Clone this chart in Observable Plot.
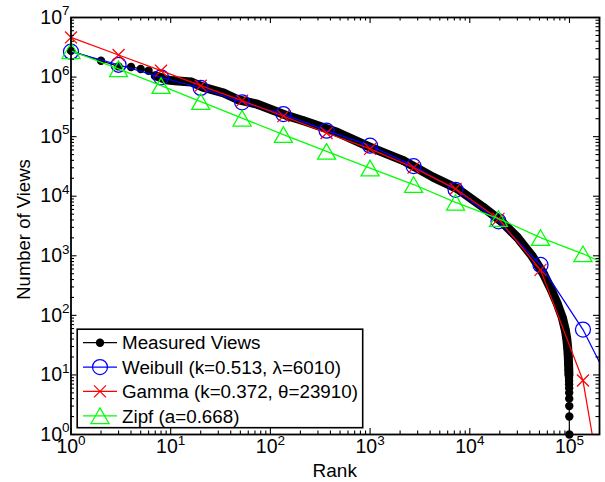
<!DOCTYPE html>
<html><head><meta charset="utf-8">
<script src="https://cdn.jsdelivr.net/npm/d3@7"></script>
<script src="https://cdn.jsdelivr.net/npm/@observablehq/plot@0.6"></script>
<style>
body{margin:0;background:#fff;}
#wrap{position:relative;width:605px;height:482px;font-family:"Liberation Sans",Arial,Helvetica,sans-serif;}
#wrap svg{position:absolute;left:0;top:0;}
</style></head><body><div id="wrap"></div>
<script>
// ---- data ----
const measuredRank  = [1,2,3,4,5,6,7,8,9,10,11,16,21,34,47,74,147,215,468,1010,2160,4330,7480,13700,20300,29900,42000,54800,65000,75300,85000,91000,94000,96000,97300,98000,98400,98700,98900,99000,99100,99200,99300,99400,99500,99600,99700];
const measuredViews = [2.75e6,1.88e6,1.51e6,1.48e6,1.37e6,1.28e6,1.05e6,9.8e5,9.0e5,8.8e5,8.7e5,8.3e5,6.8e5,5.4e5,4.2e5,3.5e5,2.25e5,1.85e5,1.18e5,6.6e4,3.95e4,2.07e4,1.34e4,6.5e3,3.9e3,2.05e3,1000,500,280,158,90,56,40,28,20,15,12,10,9,8,7,6,5,4,3,2,1];
const fitRank      = [1,3,8,20,52,135,366,1000,2730,7200,19400,51200,136500];
const weibullViews = [2.67e6,1.61e6,9.9e5,6.56e5,3.77e5,2.39e5,1.26e5,7.06e4,3.2e4,1.28e4,3790,703,57.8];
const gammaViews   = [4.63e6,2.35e6,1.28e6,7.17e5,4.02e5,2.21e5,1.15e5,6.22e4,3.02e4,1.33e4,4160,580,8.05];
const zipfViews    = [2.77e6,1.37e6,7.17e5,3.87e5,2.04e5,1.08e5,5.65e4,2.96e4,1.57e4,7900,4210,2020,1080];
const weibullTailRank = [2e5],   weibullTailViews = [16.3];
const gammaTailRank   = [1.69e5], gammaTailViews  = [1];
const zipfTailRank    = [2e5],   zipfTailViews    = [809];
const xMajor = [1,10,100,1e3,1e4,1e5];
const yMajor = [1,10,100,1e3,1e4,1e5,1e6,1e7];
const minorSteps = [2,3,4,5,6,7,8,9];
const legendLabels = ["Measured Views","Weibull (k=0.513, \u03bb=6010)","Gamma (k=0.372, \u03b8=23910)","Zipf (a=0.668)"];
const xLabel = "Rank", yLabel = "Number of Views";

// ---- build ----
const W=605,H=482,mL=70.5,mR=6,mT=17,mB=48;
const plotW=W-mL-mR, plotH=H-mT-mB;
const FONT='"Liberation Sans",Arial,Helvetica,sans-serif';
const pts=(R,V)=>R.map((r,i)=>({rank:r,views:V[i]}));
const measured=pts(measuredRank,measuredViews);
const band=measured.filter(d=>d.rank>=7 && d.views>=10);
const weibull=pts(fitRank,weibullViews), gamma=pts(fitRank,gammaViews), zipf=pts(fitRank,zipfViews);
const weibullLine=weibull.concat(pts(weibullTailRank,weibullTailViews));
const gammaLine=gamma.concat(pts(gammaTailRank,gammaTailViews));
const zipfLine=zipf.concat(pts(zipfTailRank,zipfTailViews));
const xMinor=xMajor.flatMap(m=>minorSteps.map(s=>s*m)).filter(v=>v<=2e5);
const yMinor=yMajor.slice(0,-1).flatMap(m=>minorSteps.map(s=>s*m));
const BLUE="#0000ff",RED="#ff0000",GREEN="#00ff00";
const xy={x:"rank",y:"views"};
const LW=1.25;
const expLabel=d=>"10^"+Math.round(Math.log10(d));

const chart=Plot.plot({
  width:W,height:H,marginLeft:mL,marginRight:mR,marginTop:mT,marginBottom:mB,
  x:{type:"log",domain:[1,2e5],axis:null},
  y:{type:"log",domain:[1,1e7],axis:null},
  style:{fontFamily:FONT,fontSize:"19px",color:"black",background:"white"},
  marks:[
    Plot.line(measured,{...xy,stroke:"black",strokeWidth:1.2}),
    Plot.line(band,{...xy,stroke:"black",strokeWidth:9,strokeLinejoin:"round",strokeLinecap:"round"}),
    Plot.dot(measured,{...xy,r:4.2,fill:"black",stroke:"none"}),
    Plot.line(weibullLine,{...xy,stroke:BLUE,strokeWidth:LW}),
    Plot.dot(weibull,{...xy,r:7.5,stroke:BLUE,fill:"none",strokeWidth:LW}),
    Plot.line(gammaLine,{...xy,stroke:RED,strokeWidth:LW}),
    Plot.dot(gamma,{...xy,symbol:"times",r:5.5,stroke:RED,strokeWidth:LW}),
    Plot.line(zipfLine,{...xy,stroke:GREEN,strokeWidth:LW}),
    Plot.dot(zipf,{...xy,symbol:"triangle",r:6.7,stroke:GREEN,fill:"none",strokeWidth:LW,dy:2.6}),
    // inward ticks on all four sides
    Plot.tickX(xMajor,{stroke:"black",strokeWidth:1.1,insetTop:plotH-6}),
    Plot.tickX(xMajor,{stroke:"black",strokeWidth:1.1,insetBottom:plotH-6}),
    Plot.tickX(xMinor,{stroke:"black",strokeWidth:1.1,insetTop:plotH-3.5}),
    Plot.tickX(xMinor,{stroke:"black",strokeWidth:1.1,insetBottom:plotH-3.5}),
    Plot.tickY(yMajor,{stroke:"black",strokeWidth:1.1,insetRight:plotW-6}),
    Plot.tickY(yMajor,{stroke:"black",strokeWidth:1.1,insetLeft:plotW-6}),
    Plot.tickY(yMinor,{stroke:"black",strokeWidth:1.1,insetRight:plotW-3.5}),
    Plot.tickY(yMinor,{stroke:"black",strokeWidth:1.1,insetLeft:plotW-3.5}),
    Plot.frame({stroke:"black",strokeWidth:1.8}),
    Plot.text(xMajor,{x:d=>d,frameAnchor:"bottom",dy:18.5,text:expLabel,fontSize:19.5}),
    Plot.text(yMajor,{y:d=>d,frameAnchor:"left",dx:-1.5,textAnchor:"end",text:expLabel,fontSize:19.5})
  ]
});
const ns="http://www.w3.org/2000/svg";
chart.querySelectorAll("text").forEach(t=>{
  const m=/^10\^(\d)$/.exec(t.textContent);
  if(!m) return;
  t.textContent="";
  const t1=document.createElementNS(ns,"tspan"); t1.textContent="10"; t.appendChild(t1);
  const t2=document.createElementNS(ns,"tspan"); t2.setAttribute("dy","-8.5"); t2.setAttribute("font-size","13.5"); t2.textContent=m[1]; t.appendChild(t2);
});
document.getElementById("wrap").appendChild(chart);

// ---- axis titles and legend ----
const ov=d3.create("svg").attr("width",W).attr("height",H).style("font-family",FONT);
ov.append("text").attr("x",mL+plotW/2).attr("y",477).attr("text-anchor","middle").attr("font-size",19).text(xLabel);
ov.append("text").attr("transform",`translate(24,229.5) rotate(-90)`).attr("text-anchor","middle").attr("dy","0.35em").attr("font-size",18.5).text(yLabel);
ov.append("rect").attr("x",77.2).attr("y",329.2).attr("width",285.5).attr("height",98.5)
  .attr("fill","white").attr("stroke","black").attr("stroke-width",1.6);
const styles=[
  {c:"black",sym:"dot"},{c:BLUE,sym:"circle"},{c:RED,sym:"times"},{c:GREEN,sym:"triangle"}
];
legendLabels.forEach((lab,i)=>{
  const y=342.7+i*24.35, s=styles[i];
  ov.append("line").attr("x1",83).attr("x2",117).attr("y1",y).attr("y2",y).attr("stroke",s.c).attr("stroke-width",LW);
  if(s.sym==="dot") ov.append("circle").attr("cx",100).attr("cy",y).attr("r",4.2).attr("fill","black");
  else if(s.sym==="circle") ov.append("circle").attr("cx",100).attr("cy",y).attr("r",7.5).attr("fill","none").attr("stroke",s.c).attr("stroke-width",LW);
  else if(s.sym==="times") ov.append("path").attr("d",d3.symbol(d3.symbolTimes,Math.PI*5.5*5.5)()).attr("transform",`translate(100,${y})`).attr("fill","none").attr("stroke",s.c).attr("stroke-width",LW);
  else ov.append("path").attr("d",d3.symbol(d3.symbolTriangle,Math.PI*6.7*6.7)()).attr("transform",`translate(100,${y+2.6})`).attr("fill","none").attr("stroke",s.c).attr("stroke-width",LW);
  ov.append("text").attr("x",122).attr("y",y).attr("dy","0.36em").attr("font-size",18.8).text(lab);
});
document.getElementById("wrap").appendChild(ov.node());
</script></body></html>
